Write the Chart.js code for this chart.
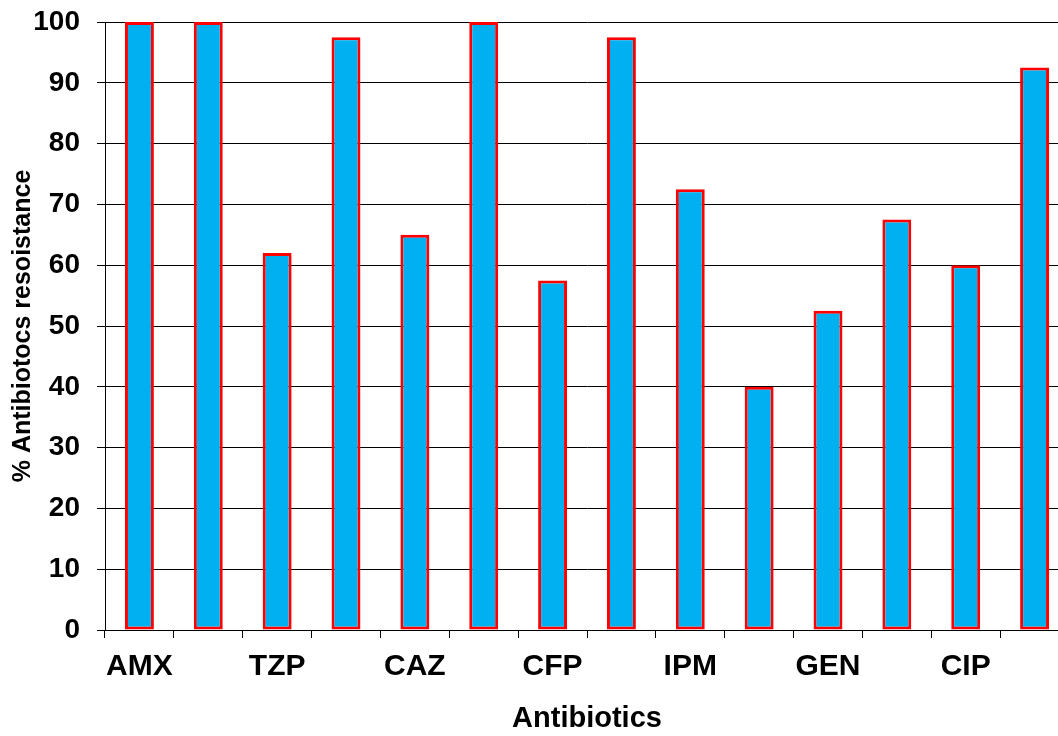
<!DOCTYPE html>
<html lang="en">
<head>
  <meta charset="UTF-8">
  <title>Antibiotic resistance</title>
  <script src="https://cdn.jsdelivr.net/npm/chart.js"></script>
  <style>
    body {
      margin: 0;
      padding: 0;
      overflow: hidden;
      background: #fff;
    }
    #wrap {
      width: 1080px;
      height: 736px;
    }
  </style>
</head>
<body>
  <div id="wrap"><canvas id="myChart"></canvas></div>

  <script>
    // categories (only every other label is printed in the original)
    var categories = ['AMX', '', 'TZP', '', 'CAZ', '', 'CFP', '', 'IPM', '', 'GEN', '', 'CIP', ''];
    var resistance = [100, 100, 62, 97.5, 65, 100, 57.5, 97.5, 72.5, 40, 52.5, 67.5, 60, 92.5];
    var yTicks = [0, 10, 20, 30, 40, 50, 60, 70, 80, 90, 100];

    var font = 'Arial, "Liberation Sans", sans-serif';

    var ctx = document.getElementById('myChart').getContext('2d');
    var myChart = new Chart(ctx, {
      type: 'bar',
      data: {
        labels: categories,
        datasets: [{
          label: '% resistance',
          data: resistance,
          backgroundColor: '#00B0F0',
          borderColor: '#FF0000',
          borderWidth: 3,
          borderSkipped: false,
          barPercentage: 0.42,
          categoryPercentage: 1
        }]
      },
      options: {
        responsive: true,
        maintainAspectRatio: false,
        animation: false,
        layout: { padding: { top: 22, right: 11, left: 0, bottom: 0 } },
        plugins: {
          legend: { display: false },
          tooltip: { enabled: false }
        },
        scales: {
          x: {
            afterFit: function (scale) {
              scale.height = 106;
              scale.paddingLeft = 0;
              scale.paddingRight = 0;
            },
            grid: {
              drawOnChartArea: false,
              drawTicks: true,
              tickLength: 8,
              color: '#000',
              offset: true
            },
            border: { color: '#000', width: 1 },
            ticks: {
              autoSkip: false,
              maxRotation: 0,
              color: '#000',
              padding: 11,
              font: { family: font, size: 30, weight: 'bold' }
            },
            title: {
              display: true,
              text: 'Antibiotics',
              color: '#000',
              padding: { top: 2, bottom: 0 },
              font: { family: font, size: 29, weight: 'bold' }
            }
          },
          y: {
            min: 0,
            max: 100,
            afterFit: function (scale) {
              scale.width = 105;
              scale.paddingTop = 0;
              scale.paddingBottom = 0;
            },
            afterBuildTicks: function (scale) {
              scale.ticks = yTicks.map(function (v) { return { value: v }; });
            },
            grid: {
              color: '#000',
              lineWidth: 1,
              drawTicks: true,
              tickLength: 8
            },
            border: { color: '#000', width: 1 },
            ticks: {
              color: '#000',
              padding: 17,
              font: { family: font, size: 28, weight: 'bold' }
            },
            title: {
              display: true,
              text: '% Antibiotocs resoistance',
              color: '#000',
              padding: { top: 8, bottom: 0 },
              font: { family: font, size: 25, weight: 'bold' }
            }
          }
        }
      }
    });
  </script>
</body>
</html>
